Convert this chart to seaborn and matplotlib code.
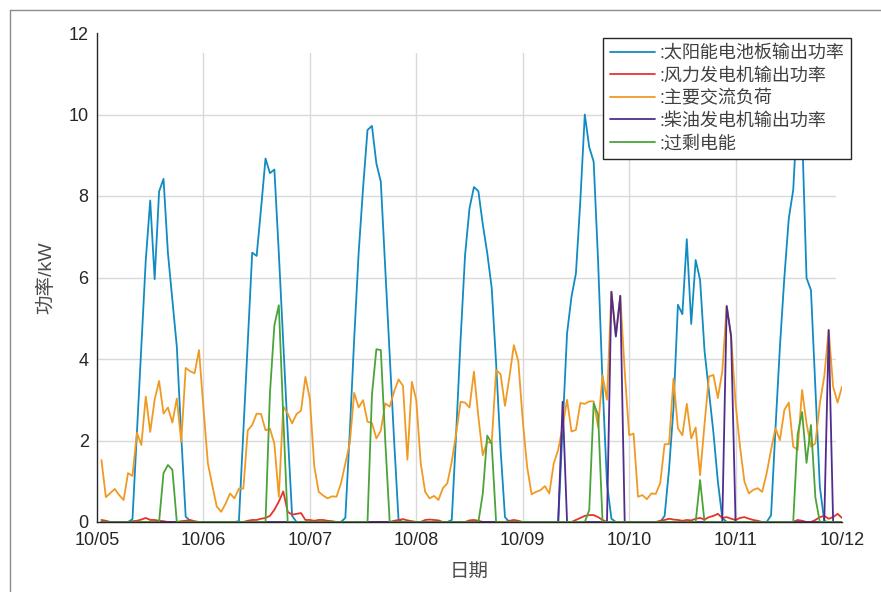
"""
Recreation of the 10/05-10/12 hybrid power system chart (hourly power per source).
"""
import matplotlib
matplotlib.use("Agg")
import matplotlib.pyplot as plt
import matplotlib.dates as mdates
from matplotlib.lines import Line2D
import pandas as pd
import seaborn as sns

SERIES = ["太阳能电池板输出功率", "风力发电机输出功率", "主要交流负荷", "柴油发电机输出功率", "过剩电能"]
COLORS = ["#128bc2", "#e5352b", "#f09a24", "#512c8f", "#4aa43a"]

START = "2019-10-05 01:00"
DAY_TICKS = pd.date_range("2019-10-05", "2019-10-12", freq="D")
Y_TICKS = [0, 2, 4, 6, 8, 10, 12]

# hourly values, one row per half day (12 h)
SOLAR = [
    0, 0, 0, 0, 0, 0, 0, 0.07, 2.2, 4.3, 6.43, 7.89,
    5.96, 8.11, 8.42, 6.59, 5.45, 4.3, 2.1, 0.13, 0.03, 0, 0, 0,
    0, 0, 0, 0, 0, 0, 0, 0.02, 2.2, 4.4, 6.61, 6.53,
    7.7, 8.92, 8.56, 8.65, 6.6, 4.4, 2.2, 0.15, 0, 0, 0, 0,
    0, 0, 0, 0, 0, 0, 0, 0.1, 2.2, 4.5, 6.6, 8.2,
    9.62, 9.72, 8.8, 8.35, 6.2, 4.1, 2.0, 0.05, 0, 0, 0, 0,
    0, 0, 0, 0, 0, 0, 0, 0.05, 2.2, 4.5, 6.55, 7.7,
    8.22, 8.12, 7.3, 6.6, 5.75, 3.9, 1.8, 0.12, 0, 0, 0, 0,
    0, 0, 0, 0, 0, 0, 0, 0, 2.3, 4.63, 5.53, 6.1,
    7.9, 10.0, 9.2, 8.84, 6.4, 3.4, 0.95, 0.08, 0, 0, 0, 0,
    0, 0, 0, 0, 0, 0, 0, 0.15, 1.3, 2.8, 5.33, 5.1,
    6.94, 4.86, 6.43, 5.94, 4.2, 3.2, 2.2, 1.0, 0.1, 0, 0, 0,
    0, 0, 0, 0, 0, 0, 0, 0.16, 2.3, 4.3, 6.0, 7.45,
    8.15, 10.2, 9.6, 5.99, 5.69, 3.3, 0.87, 0.02, 0, 0, 0, 0,
]

WIND = [
    0.05, 0.03, 0, 0, 0, 0, 0, 0.02, 0.03, 0.06, 0.1, 0.05,
    0.05, 0.03, 0.02, 0, 0, 0, 0.02, 0.03, 0.05, 0.02, 0, 0,
    0, 0, 0, 0, 0, 0, 0, 0, 0, 0.03, 0.05, 0.05,
    0.08, 0.1, 0.15, 0.3, 0.5, 0.75, 0.25, 0.18, 0.2, 0.22, 0.05, 0.05,
    0.03, 0.05, 0.05, 0.03, 0.02, 0, 0, 0, 0, 0, 0, 0,
    0, 0, 0, 0, 0, 0, 0.03, 0.05, 0.07, 0.04, 0.02, 0,
    0, 0.05, 0.06, 0.05, 0.04, 0, 0, 0, 0, 0, 0, 0.04,
    0.05, 0.03, 0, 0, 0, 0, 0, 0, 0.03, 0.05, 0.03, 0,
    0, 0, 0, 0, 0, 0, 0, 0, 0, 0, 0, 0.05,
    0.1, 0.15, 0.17, 0.17, 0.12, 0.05, 0, 0, 0, 0, 0, 0,
    0, 0, 0, 0, 0, 0, 0.03, 0.05, 0.08, 0.06, 0.05, 0.03,
    0.05, 0.04, 0.08, 0.1, 0.06, 0.12, 0.15, 0.2, 0.1, 0.12, 0.08, 0.05,
    0.1, 0.12, 0.08, 0.05, 0.03, 0, 0, 0, 0, 0, 0, 0,
    0, 0.05, 0.03, 0, 0, 0.05, 0.12, 0.15, 0.08, 0.12, 0.2, 0.1,
]

LOAD = [
    1.52, 0.61, 0.71, 0.81, 0.66, 0.54, 1.20, 1.13, 2.19, 1.89, 3.08, 2.21,
    3.00, 3.46, 2.66, 2.81, 2.44, 3.03, 1.97, 3.78, 3.70, 3.65, 4.22, 2.80,
    1.44, 0.90, 0.38, 0.25, 0.45, 0.70, 0.58, 0.82, 0.82, 2.25, 2.38, 2.66,
    2.65, 2.25, 2.29, 1.92, 0.62, 2.83, 2.66, 2.42, 2.65, 2.73, 3.56, 3.02,
    1.36, 0.74, 0.65, 0.58, 0.63, 0.62, 0.94, 1.44, 1.93, 3.17, 2.81, 2.99,
    2.46, 2.43, 2.05, 2.24, 2.91, 2.83, 3.20, 3.50, 3.34, 1.53, 3.44, 2.99,
    1.44, 0.74, 0.58, 0.64, 0.54, 0.83, 0.95, 1.48, 2.18, 2.95, 2.93, 2.81,
    3.69, 2.58, 1.64, 1.97, 1.93, 3.73, 3.63, 2.85, 3.56, 4.34, 3.95, 2.50,
    1.35, 0.68, 0.74, 0.78, 0.88, 0.70, 1.44, 1.77, 2.34, 3.00, 2.22, 2.26,
    2.92, 2.90, 2.96, 2.96, 2.33, 3.60, 3.00, 5.65, 4.59, 5.55, 3.70, 2.13,
    2.17, 0.62, 0.66, 0.56, 0.70, 0.69, 0.95, 1.91, 1.91, 3.52, 2.30, 2.13,
    2.90, 2.05, 2.32, 1.15, 2.40, 3.57, 3.61, 3.04, 3.69, 5.30, 4.55, 2.91,
    1.85, 0.99, 0.70, 0.79, 0.83, 0.74, 1.19, 1.77, 2.30, 2.01, 2.75, 2.93,
    1.85, 1.77, 3.24, 2.42, 1.85, 1.93, 2.91, 3.57, 4.71, 3.32, 2.93, 3.32,
]

DIESEL = [
    0, 0, 0, 0, 0, 0, 0, 0, 0, 0, 0, 0,
    0, 0, 0, 0, 0, 0, 0, 0, 0, 0, 0, 0,
    0, 0, 0, 0, 0, 0, 0, 0, 0, 0, 0, 0,
    0, 0, 0, 0, 0, 0, 0, 0, 0, 0, 0, 0,
    0, 0, 0, 0, 0, 0, 0, 0, 0, 0, 0, 0,
    0, 0, 0, 0, 0, 0, 0, 0, 0, 0, 0, 0,
    0, 0, 0, 0, 0, 0, 0, 0, 0, 0, 0, 0,
    0, 0, 0, 0, 0, 0, 0, 0, 0, 0, 0, 0,
    0, 0, 0, 0, 0, 0, 0, 0, 2.95, 0, 0, 0,
    0, 0, 0, 0, 0, 0, 0, 5.65, 4.55, 5.55, 0, 0,
    0, 0, 0, 0, 0, 0, 0, 0, 0, 0, 0, 0,
    0, 0, 0, 0, 0, 0, 0, 0, 0, 5.30, 4.55, 0,
    0, 0, 0, 0, 0, 0, 0, 0, 0, 0, 0, 0,
    0, 0, 0, 0, 0, 0, 0, 0, 4.71, 0, 0, 0,
]

EXCESS = [
    0, 0, 0, 0, 0, 0, 0, 0, 0, 0, 0, 0,
    0, 0, 1.2, 1.4, 1.28, 0, 0, 0, 0, 0, 0, 0,
    0, 0, 0, 0, 0, 0, 0, 0, 0, 0, 0, 0,
    0, 0, 3.16, 4.83, 5.32, 2.6, 0, 0, 0, 0, 0, 0,
    0, 0, 0, 0, 0, 0, 0, 0, 0, 0, 0, 0,
    0, 3.12, 4.24, 4.22, 2.0, 0, 0, 0, 0, 0, 0, 0,
    0, 0, 0, 0, 0, 0, 0, 0, 0, 0, 0, 0,
    0, 0, 0.7, 2.12, 1.93, 0, 0, 0, 0, 0, 0, 0,
    0, 0, 0, 0, 0, 0, 0, 0, 0, 0, 0, 0,
    0, 0, 0.29, 2.91, 2.63, 0, 0, 0, 0, 0, 0, 0,
    0, 0, 0, 0, 0, 0, 0, 0, 0, 0, 0, 0,
    0, 0, 0, 1.03, 0, 0, 0, 0, 0, 0, 0, 0,
    0, 0, 0, 0, 0, 0, 0, 0, 0, 0, 0, 0,
    0, 2.15, 2.7, 1.45, 2.38, 0.6, 0, 0, 0, 0, 0, 0,
]


def build_frame() -> pd.DataFrame:
    times = pd.date_range(START, periods=len(LOAD), freq="h")
    parts = []
    for name, vals in zip(SERIES, [SOLAR, WIND, LOAD, DIESEL, EXCESS]):
        parts.append(pd.DataFrame({"time": times, "value": vals, "series": name}))
    return pd.concat(parts, ignore_index=True)


def main() -> None:
    sns.set_style("white")
    plt.rcParams["font.family"] = ["Liberation Sans", "Noto Sans CJK SC", "DejaVu Sans"]

    df = build_frame()

    fig = plt.figure(figsize=(8.81, 5.92), dpi=100)
    ax = fig.add_axes([97 / 881, 1 - 522 / 592, (842 - 97) / 881, (522 - 33) / 592])

    # grid drawn by hand: the reference grid stops short of the top and right
    for d in DAY_TICKS[1:-1]:
        ax.axvline(d, ymax=0.959, color="#d9d9d9", linewidth=1, zorder=0)
    for y in Y_TICKS[1:-1]:
        ax.axhline(y, xmax=0.99, color="#d9d9d9", linewidth=1, zorder=0)

    sns.lineplot(data=df, x="time", y="value", hue="series", hue_order=SERIES,
                 palette=COLORS, estimator=None, linewidth=1.3, legend=False, ax=ax)

    ax.set_xlim(DAY_TICKS[0], DAY_TICKS[-1])
    ax.set_ylim(0, 12)
    ax.set_yticks(Y_TICKS)
    ax.set_xticks(DAY_TICKS)
    ax.xaxis.set_major_formatter(mdates.DateFormatter("%m/%d"))
    ax.grid(False)

    for side in ["top", "right"]:
        ax.spines[side].set_visible(False)
    for side in ["left", "bottom"]:
        ax.spines[side].set_color("#262626")
        ax.spines[side].set_linewidth(1)

    ax.tick_params(direction="in", length=5, width=1, colors="#262626", labelsize=13)
    ax.tick_params(axis="x", pad=7)
    ax.tick_params(axis="y", pad=6)

    ax.set_xlabel("日期", fontsize=14, color="#4d4d4d")
    ax.set_ylabel("功率/kW", fontsize=14, color="#4d4d4d")
    ax.xaxis.set_label_coords(0.5, -0.085)
    ax.yaxis.set_label_coords(-0.056, 0.5)

    handles = [Line2D([], [], color=c, linewidth=1.3) for c in COLORS]
    leg = ax.legend(handles, [":" + s for s in SERIES], loc="upper right",
                    bbox_to_anchor=(851 / 881, 1 - 38 / 592), bbox_transform=fig.transFigure,
                    borderaxespad=0, frameon=True, fancybox=False, framealpha=1,
                    edgecolor="#262626", fontsize=13, handlelength=2.5,
                    handletextpad=0.2, labelspacing=0.3, borderpad=0.4)
    leg.get_frame().set_linewidth(1.0)
    for t in leg.get_texts():
        t.set_color("#404040")

    # outer frame of the picture (left and top edges visible)
    fig.add_artist(Line2D([10 / 881, 10 / 881], [0, 1 - 10 / 592], transform=fig.transFigure,
                          color="#8c8c8c", linewidth=1))
    fig.add_artist(Line2D([10 / 881, 1], [1 - 10 / 592, 1 - 10 / 592], transform=fig.transFigure,
                          color="#8c8c8c", linewidth=1))

    fig.savefig("out.png", dpi=100, facecolor="white")
    plt.close(fig)


if __name__ == "__main__":
    main()
